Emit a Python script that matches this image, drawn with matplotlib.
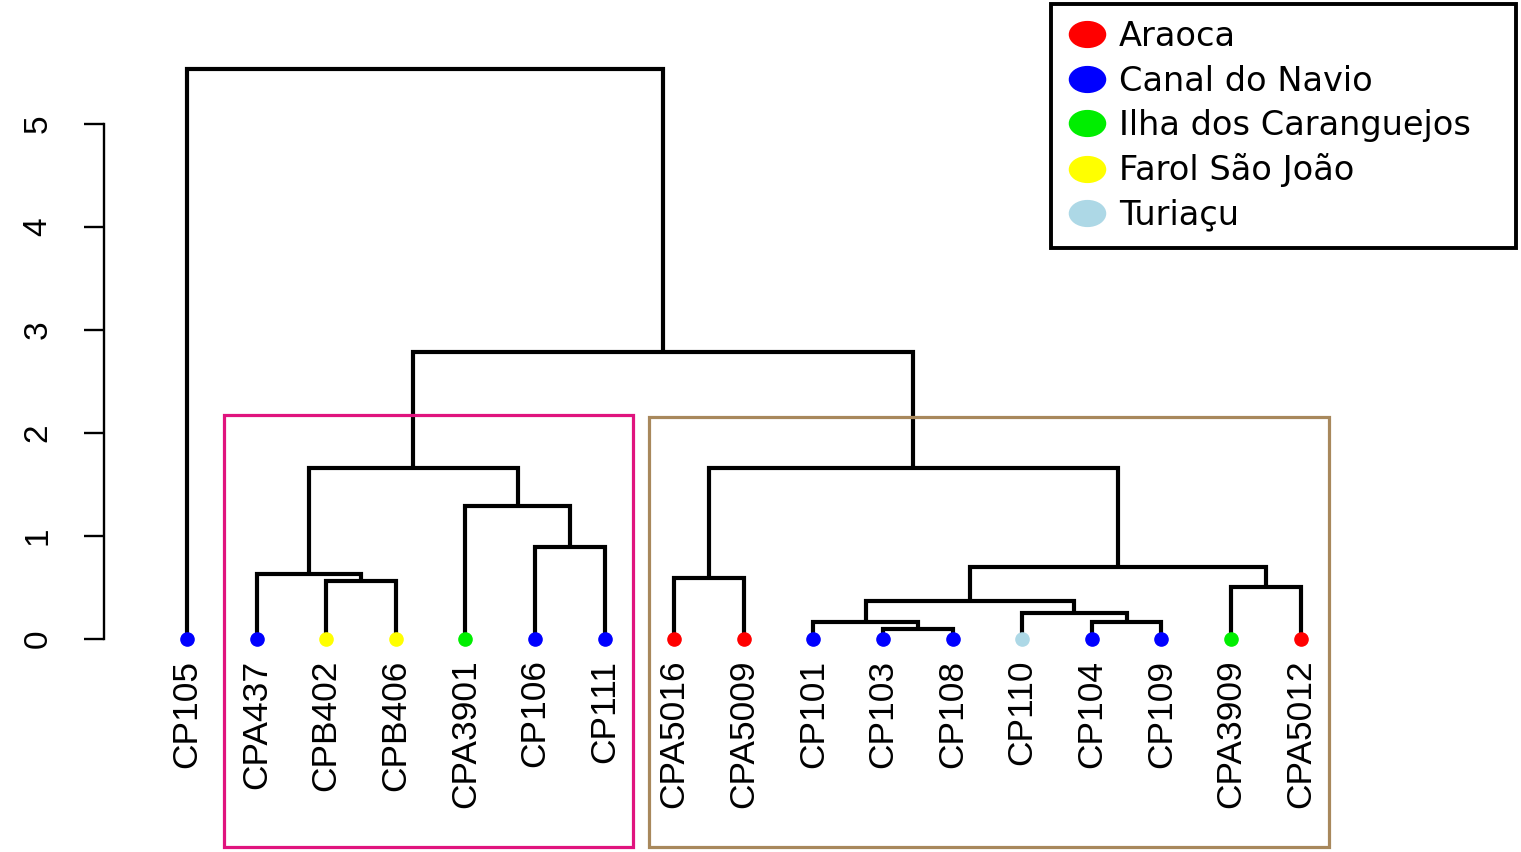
import matplotlib
matplotlib.use("Agg")
import matplotlib.pyplot as plt
from matplotlib.lines import Line2D
from matplotlib.patches import Rectangle
from matplotlib.path import Path
from matplotlib.transforms import Affine2D

# leaves in plotting order and their sampling site
leaves = ['CP105', 'CPA437', 'CPB402', 'CPB406', 'CPA3901', 'CP106', 'CP111',
          'CPA5016', 'CPA5009', 'CP101', 'CP103', 'CP108', 'CP110', 'CP104',
          'CP109', 'CPA3909', 'CPA5012']
leaf_site = ['Canal do Navio', 'Canal do Navio', 'Farol São João', 'Farol São João',
             'Ilha dos Caranguejos', 'Canal do Navio', 'Canal do Navio',
             'Araoca', 'Araoca', 'Canal do Navio', 'Canal do Navio', 'Canal do Navio',
             'Turiaçu', 'Canal do Navio', 'Canal do Navio', 'Ilha dos Caranguejos', 'Araoca']

# merges: str = leaf, int = earlier merge index
merge_left = ['CP103', 'CP104', 'CP101', 'CP110', 2, 'CPA3909', 'CPB402', 'CPA5016',
              'CPA437', 4, 'CP106', 'CPA3901', 8, 7, 12, 'CP105']
merge_right = ['CP108', 'CP109', 0, 1, 3, 'CPA5012', 'CPB406', 'CPA5009',
               6, 5, 'CP111', 10, 11, 9, 13, 14]
merge_height = [0.097, 0.165, 0.165, 0.252, 0.369, 0.505, 0.563, 0.592,
                0.631, 0.699, 0.893, 1.291, 1.660, 1.660, 2.786, 5.534]

sites = ['Araoca', 'Canal do Navio', 'Ilha dos Caranguejos', 'Farol São João', 'Turiaçu']
site_colors = ['#FF0000', '#0000FF', '#00EE00', '#FFFF00', '#ADD8E6']

W, H = 1521, 852
fig = plt.figure(figsize=(W / 100, H / 100), dpi=100)
fig.set_facecolor('white')
ax = fig.add_axes([104 / W, 1 - 660 / H, (1380 - 104) / W, (660 - 40) / H])
ax.set_xlim(-1.193, 17.14)
ax.set_ylim(-0.204, 5.816)

leaf_x = {name: i for i, name in enumerate(leaves)}

def draw(node):
    if isinstance(node, str):
        return leaf_x[node], 0.0
    xl, yl = draw(merge_left[node])
    xr, yr = draw(merge_right[node])
    h = merge_height[node]
    ax.plot([xl, xl, xr, xr], [yl, h, h, yr], color='black', lw=3,
            solid_capstyle='butt', solid_joinstyle='miter', clip_on=False)
    return (xl + xr) / 2, h

draw(len(merge_height) - 1)

# coloured leaf points
col_of = dict(zip(sites, site_colors))
for i, name in enumerate(leaves):
    ax.plot(i, 0, 'o', ms=9.5, color=col_of[leaf_site[i]], zorder=5, clip_on=False)
    ax.text(i, -0.2, name, rotation=90, ha='center', va='top',
            fontsize=25.5, family='Liberation Sans')

# axis like R base plot
for s in ['top', 'right', 'bottom']:
    ax.spines[s].set_visible(False)
ax.spines['left'].set_bounds(0, 5)
ax.spines['left'].set_linewidth(1.7)
ax.set_xticks([])
ax.set_yticks(range(6))
ax.tick_params(axis='y', length=14.4, width=1.7, pad=22, labelsize=24, labelrotation=90)
for t in ax.get_yticklabels():
    t.set_family('Liberation Sans')
    t.set_va('center')

# cluster boxes
fig.patches.append(Rectangle((224 / W, 1 - 847 / H), (633 - 224) / W, (847 - 415) / H,
                             transform=fig.transFigure, fill=False, ec='#E0147E', lw=2.3))
fig.patches.append(Rectangle((649 / W, 1 - 847 / H), (1329 - 649) / W, (847 - 417) / H,
                             transform=fig.transFigure, fill=False, ec='#A8885C', lw=2.3))

# legend with elliptical keys
ellipse = Path.unit_circle().transformed(Affine2D().scale(1.4, 1.0))
handles = [Line2D([], [], ls='none', marker=ellipse, ms=26, color=c) for c in site_colors]
leg = fig.legend(handles, sites, loc='upper left',
                 bbox_to_anchor=(1051 / W, 1 - 249 / H, 465 / W, 245 / H), mode='expand',
                 frameon=True, fancybox=False, framealpha=1, borderaxespad=0,
                 handlelength=1.2, handletextpad=0.35, labelspacing=0.34,
                 borderpad=0.48, prop={'family': 'DejaVu Sans', 'size': 24.2})
leg.get_frame().set_edgecolor('black')
leg.get_frame().set_linewidth(2.8)

fig.savefig('out.png', dpi=100)
